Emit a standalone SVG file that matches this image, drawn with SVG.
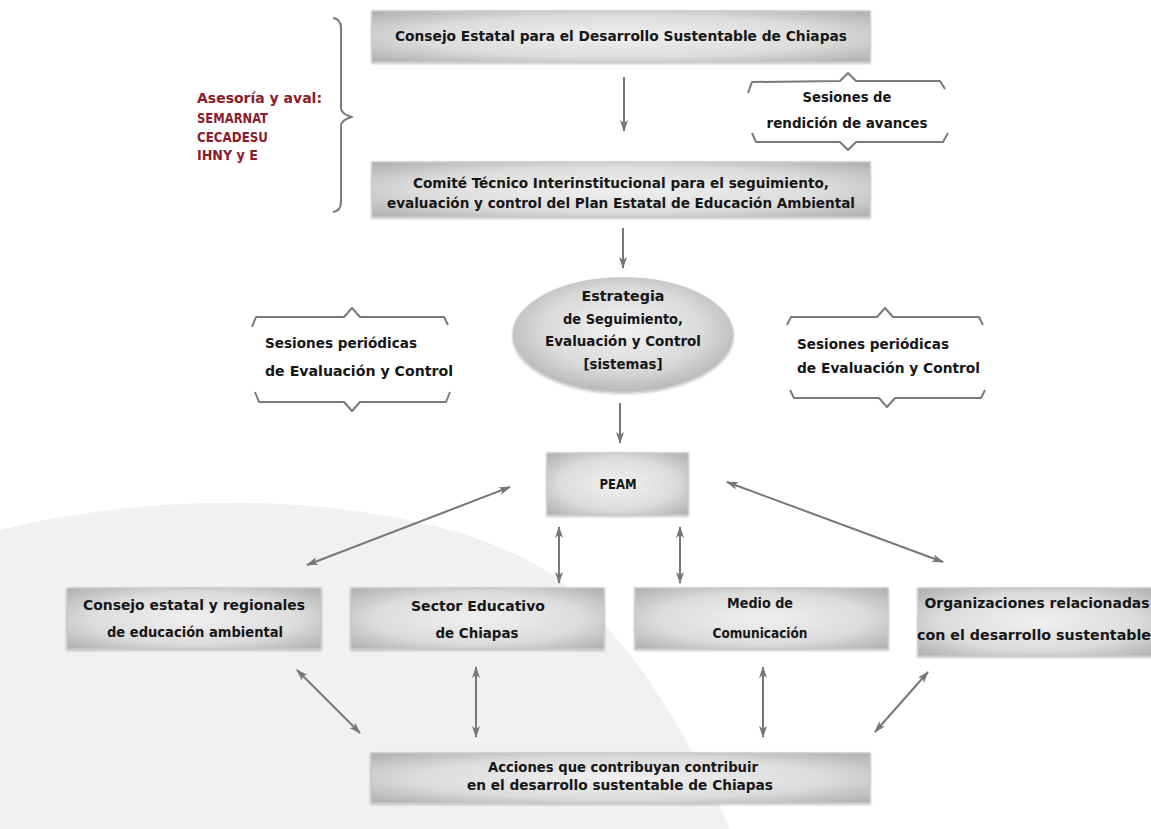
<svg xmlns="http://www.w3.org/2000/svg" width="1151" height="829" viewBox="0 0 1151 829">
<defs>
<radialGradient id="boxg" cx="0.5" cy="0.5" r="0.75">
<stop offset="0" stop-color="#f0f0f0"/>
<stop offset="0.55" stop-color="#dcdcdc"/>
<stop offset="1" stop-color="#a6a6a6"/>
</radialGradient>
<radialGradient id="ellg" cx="0.5" cy="0.45" r="0.6">
<stop offset="0" stop-color="#f2f2f2"/>
<stop offset="0.6" stop-color="#dadada"/>
<stop offset="1" stop-color="#b0b0b0"/>
</radialGradient>
<filter id="sh" x="-5%" y="-10%" width="110%" height="130%">
<feDropShadow dx="0" dy="1" stdDeviation="1.2" flood-color="#000" flood-opacity="0.25"/>
</filter>
<marker id="ah" viewBox="0 0 12 8" refX="11" refY="4" markerWidth="12" markerHeight="8" markerUnits="userSpaceOnUse" orient="auto-start-reverse">
<path d="M0,0 L12,4 L0,8 L3,4 Z" fill="#777"/>
</marker>
</defs>
<style>
.box{fill:url(#boxg);stroke:#c9c9c9;stroke-width:1.5;filter:url(#sh)}
.t{font-family:"DejaVu Sans Condensed","DejaVu Sans",sans-serif;font-weight:bold;font-size:13.5px;fill:#161616}
.m{text-anchor:middle}
.red{fill:#8b1c2c}
.con{stroke:#777;stroke-width:2;fill:none}
.br{stroke:#7a7a7a;stroke-width:2;fill:none;stroke-linejoin:round}
</style>
<rect width="1151" height="829" fill="#ffffff"/>
<path d="M0,530 C 200,480 450,500 560,580 C 640,650 690,740 730,829 L0,829 Z" fill="#f3f1ef"/>

<g id="advisory">
<path class="br" d="M333,18 Q341,19 341,28 L341,108 Q341,114 352,117 Q341,120 341,126 L341,202 Q341,211 333,212"/>
<text class="t red" x="197" y="103" textLength="125" lengthAdjust="spacingAndGlyphs">Asesoría y aval:</text>
<text class="t red" x="197" y="123" textLength="71" lengthAdjust="spacingAndGlyphs">SEMARNAT</text>
<text class="t red" x="197" y="142" textLength="71" lengthAdjust="spacingAndGlyphs">CECADESU</text>
<text class="t red" x="197" y="160" textLength="61" lengthAdjust="spacingAndGlyphs">IHNY y E</text>
</g>

<g id="consejo-estatal">
<rect class="box" x="372" y="11" width="498" height="51"/>
<text class="t m" x="621" y="41" textLength="452" lengthAdjust="spacingAndGlyphs">Consejo Estatal para el Desarrollo Sustentable de Chiapas</text>
</g>

<g id="sesiones-rendicion">
<path class="br" d="M748,93 L752,82 L840,81 L848,73 L856,81 L940,81 L945,89"/>
<path class="br" d="M752,133 L756,142 L840,142 L848,150 L856,142 L943,142 L948,133"/>
<text class="t m" x="847" y="102" textLength="89" lengthAdjust="spacingAndGlyphs">Sesiones de</text>
<text class="t m" x="847" y="128" textLength="161" lengthAdjust="spacingAndGlyphs">rendición de avances</text>
</g>

<g id="comite-tecnico">
<rect class="box" x="372" y="162" width="498" height="55"/>
<text class="t m" x="621" y="188" textLength="416" lengthAdjust="spacingAndGlyphs">Comité Técnico Interinstitucional para el seguimiento,</text>
<text class="t m" x="621" y="208" textLength="468" lengthAdjust="spacingAndGlyphs">evaluación y control del Plan Estatal de Educación Ambiental</text>
</g>

<g id="estrategia">
<ellipse cx="623" cy="335" rx="110" ry="57" fill="url(#ellg)" stroke="#c9c9c9" stroke-width="1.5" filter="url(#sh)"/>
<text class="t m" x="623" y="301" textLength="83" lengthAdjust="spacingAndGlyphs">Estrategia</text>
<text class="t m" x="623" y="324" textLength="120" lengthAdjust="spacingAndGlyphs">de Seguimiento,</text>
<text class="t m" x="623" y="346" textLength="156" lengthAdjust="spacingAndGlyphs">Evaluación y Control</text>
<text class="t m" x="623" y="369" textLength="79" lengthAdjust="spacingAndGlyphs">[sistemas]</text>
</g>

<g id="sesiones-periodicas-izq">
<path class="br" d="M252,327 L256,317 L344,317 L352,308 L360,317 L444,317 L448,325"/>
<path class="br" d="M255,392 L259,402 L344,402 L352,411 L360,402 L446,402 L450,392"/>
<text class="t" x="265" y="348" textLength="152" lengthAdjust="spacingAndGlyphs">Sesiones periódicas</text>
<text class="t" x="265" y="376" textLength="188" lengthAdjust="spacingAndGlyphs">de Evaluación y Control</text>
</g>

<g id="sesiones-periodicas-der">
<path class="br" d="M787,325 L791,317 L877,317 L885,308 L893,317 L979,317 L983,325"/>
<path class="br" d="M790,390 L794,398 L879,398 L887,407 L895,398 L981,398 L985,390"/>
<text class="t" x="797" y="349" textLength="152" lengthAdjust="spacingAndGlyphs">Sesiones periódicas</text>
<text class="t" x="797" y="373" textLength="183" lengthAdjust="spacingAndGlyphs">de Evaluación y Control</text>
</g>

<g id="peam">
<rect class="box" x="547" y="453" width="141" height="62"/>
<text class="t m" x="618" y="489" textLength="37" lengthAdjust="spacingAndGlyphs">PEAM</text>
</g>

<g id="consejo-regionales">
<rect class="box" x="67" y="588" width="254" height="61"/>
<text class="t m" x="194" y="610" textLength="222" lengthAdjust="spacingAndGlyphs">Consejo estatal y regionales</text>
<text class="t m" x="195" y="637" textLength="176" lengthAdjust="spacingAndGlyphs">de educación ambiental</text>
</g>

<g id="sector-educativo">
<rect class="box" x="351" y="588" width="253" height="61"/>
<text class="t m" x="478" y="611" textLength="134" lengthAdjust="spacingAndGlyphs">Sector Educativo</text>
<text class="t m" x="477" y="638" textLength="83" lengthAdjust="spacingAndGlyphs">de Chiapas</text>
</g>

<g id="medio-comunicacion">
<rect class="box" x="635" y="588" width="253" height="61"/>
<text class="t m" x="760" y="608" textLength="66" lengthAdjust="spacingAndGlyphs">Medio de</text>
<text class="t m" x="760" y="638" textLength="95" lengthAdjust="spacingAndGlyphs">Comunicación</text>
</g>

<g id="organizaciones">
<rect class="box" x="918" y="588" width="240" height="68"/>
<text class="t m" x="1037" y="608" textLength="225" lengthAdjust="spacingAndGlyphs">Organizaciones relacionadas</text>
<text class="t m" x="1034" y="640" textLength="234" lengthAdjust="spacingAndGlyphs">con el desarrollo sustentable</text>
</g>

<g id="acciones">
<rect class="box" x="371" y="753" width="499" height="50"/>
<text class="t m" x="623" y="772" textLength="270" lengthAdjust="spacingAndGlyphs">Acciones que contribuyan contribuir</text>
<text class="t m" x="620" y="790" textLength="306" lengthAdjust="spacingAndGlyphs">en el desarrollo sustentable de Chiapas</text>
</g>

<g id="connectors">
<line class="con" x1="624" y1="77" x2="624" y2="131" marker-end="url(#ah)"/>
<line class="con" x1="623" y1="228" x2="623" y2="268" marker-end="url(#ah)"/>
<line class="con" x1="620" y1="403" x2="620" y2="443" marker-end="url(#ah)"/>
<line class="con" x1="510" y1="487" x2="307" y2="565" marker-start="url(#ah)" marker-end="url(#ah)"/>
<line class="con" x1="727" y1="482" x2="943" y2="562" marker-start="url(#ah)" marker-end="url(#ah)"/>
<line class="con" x1="559" y1="527" x2="559" y2="583" marker-start="url(#ah)" marker-end="url(#ah)"/>
<line class="con" x1="680" y1="527" x2="680" y2="583" marker-start="url(#ah)" marker-end="url(#ah)"/>
<line class="con" x1="297" y1="670" x2="360" y2="733" marker-start="url(#ah)" marker-end="url(#ah)"/>
<line class="con" x1="476" y1="667" x2="476" y2="737" marker-start="url(#ah)" marker-end="url(#ah)"/>
<line class="con" x1="763" y1="667" x2="763" y2="737" marker-start="url(#ah)" marker-end="url(#ah)"/>
<line class="con" x1="928" y1="672" x2="875" y2="732" marker-start="url(#ah)" marker-end="url(#ah)"/>
</g>
</svg>
